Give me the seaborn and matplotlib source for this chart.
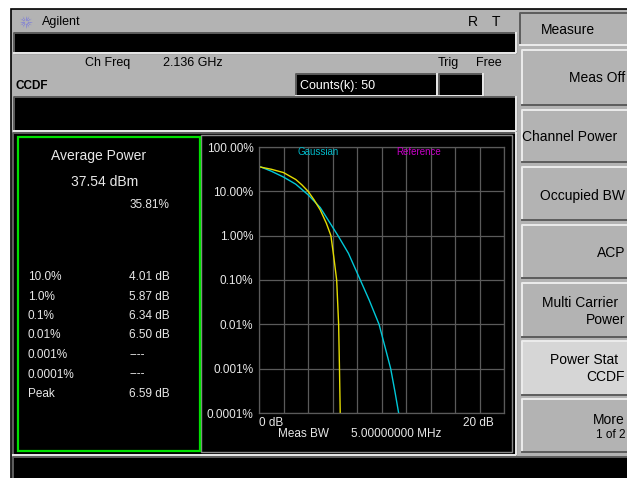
import numpy as np
import pandas as pd
import matplotlib.pyplot as plt
from matplotlib.patches import Rectangle
from matplotlib.ticker import NullLocator
import seaborn as sns

plt.rcParams['font.family'] = ['Liberation Sans', 'DejaVu Sans']

# CCDF traces (x in dB above average, y in %)
meas_db = [0.0, 1.0, 2.0, 3.0, 3.5, 4.01, 4.5, 5.0, 5.5, 5.87, 6.1, 6.34, 6.5, 6.57, 6.63, 6.65]
meas_pct = [35.81, 31.5, 26.5, 18.5, 14.0, 10.0, 6.4, 3.8, 1.9, 1.0, 0.34, 0.1, 0.01, 0.001, 0.0001, 0.00005]
gauss_db = [0.0, 1.0, 2.0, 3.0, 4.0, 5.0, 5.5, 6.45, 7.3, 8.27, 9.0, 9.8, 10.3, 10.75, 11.1, 11.4, 11.5]
gauss_pct = [36.8, 28.5, 21.0, 14.5, 8.4, 4.3, 2.6, 1.0, 0.4, 0.1, 0.035, 0.01, 0.003, 0.001, 0.0003, 0.0001, 0.00007]

ytick_vals = [100, 10, 1, 0.1, 0.01, 0.001, 0.0001]
ytick_labels = ["100.00%", "10.00%", "1.00%", "0.10%", "0.01%", "0.001%", "0.0001%"]

stat_labels = ["10.0%", "1.0%", "0.1%", "0.01%", "0.001%", "0.0001%", "Peak"]
stat_values = ["4.01 dB", "5.87 dB", "6.34 dB", "6.50 dB", "----", "----", "6.59 dB"]

GRAY = "#b3b3b3"
LIGHT = "#ececec"
DARK = "#5c5c5c"
TXT = "#e8e8e8"

fig = plt.figure(figsize=(6.27, 4.78), dpi=100)
fig.patch.set_facecolor("white")

# background axes in pixel units for the instrument chrome
bg = fig.add_axes([0, 0, 1, 1])
bg.set_xlim(0, 627)
bg.set_ylim(478, 0)
bg.axis("off")


def box(x, y, w, h, fc, ec=None, lw=0.8, z=1):
    bg.add_patch(Rectangle((x, y), w, h, facecolor=fc, edgecolor=ec if ec else fc, lw=lw, zorder=z))


def bevel(x, y, w, h, fc, raised=True):
    box(x, y, w, h, fc)
    hi, lo = (LIGHT, DARK) if raised else (DARK, LIGHT)
    bg.plot([x, x, x + w], [y + h, y, y], color=hi, lw=1.4, zorder=2)
    bg.plot([x, x + w, x + w], [y + h, y + h, y], color=lo, lw=1.4, zorder=2)


# screen
box(11, 9, 620, 472, GRAY, ec="black", lw=1.2)

# title line
for a in np.arange(0, 360, 30):
    r = np.radians(a)
    bg.plot([26 + 2 * np.cos(r), 26 + 6 * np.cos(r)], [22 + 2 * np.sin(r), 22 + 6 * np.sin(r)],
            color="#6a6ae6", lw=0.7, ls=(0, (1, 1)))
bg.text(42, 22, "Agilent", fontsize=9, va="center", color="black")
bg.text(468, 22, "R", fontsize=10, va="center")
bg.text(492, 22, "T", fontsize=10, va="center")

bevel(14, 33, 502, 20, "black", raised=False)
bg.text(85, 63, "Ch Freq", fontsize=9, va="center")
bg.text(163, 63, "2.136 GHz", fontsize=9, va="center")
bg.text(438, 63, "Trig", fontsize=9, va="center")
bg.text(476, 63, "Free", fontsize=9, va="center")
bg.text(15, 86, "CCDF", fontsize=8.5, fontweight="bold", va="center")

bevel(296, 74, 141, 22, "black", raised=False)
bg.text(300, 86, "Counts(k): 50", fontsize=9, va="center", color="white")
bevel(439, 74, 44, 22, "black", raised=False)

bevel(14, 97, 502, 34, "black", raised=False)

# main display frame
bevel(13, 133, 503, 322, "black", raised=False)
box(18, 137, 182, 314, "black", ec="#00e000", lw=1.6, z=3)
box(201, 135, 311, 317, "black", ec="#8a8a8a", lw=1.0, z=2)

# stats panel
bg.text(99, 156, "Average Power", fontsize=10, ha="center", va="center", color=TXT)
bg.text(105, 182, "37.54 dBm", fontsize=10, ha="center", va="center", color=TXT)
bg.text(130, 205, "35.81%", fontsize=8.5, va="center", color=TXT)
for i, (lab, val) in enumerate(zip(stat_labels, stat_values)):
    yy = 277 + i * 19.5
    bg.text(28, yy, lab, fontsize=8.5, va="center", color=TXT)
    bg.text(129, yy, val, fontsize=8.5, va="center", color=TXT)

# bottom status bar
bevel(13, 457, 620, 24, "black", raised=False)

# softkey column
bevel(520, 13, 115, 32, GRAY, raised=False)
bg.text(541, 30, "Measure", fontsize=10, va="center")
keys = [(50, 105), (110, 162), (167, 220), (225, 278), (283, 337), (341, 395), (399, 452)]
for i, (y0, y1) in enumerate(keys):
    bevel(522, y0, 115, y1 - y0, "#d6d6d6" if i == 5 else GRAY, raised=True)
bg.text(625, 78, "Meas Off", fontsize=10, ha="right", va="center")
bg.text(522, 137, "Channel Power", fontsize=10, va="center")
bg.text(625, 196, "Occupied BW", fontsize=10, ha="right", va="center")
bg.text(625, 253, "ACP", fontsize=10, ha="right", va="center")
bg.text(542, 303, "Multi Carrier", fontsize=10, va="center")
bg.text(625, 320, "Power", fontsize=10, ha="right", va="center")
bg.text(550, 360, "Power Stat", fontsize=10, va="center")
bg.text(625, 377, "CCDF", fontsize=10, ha="right", va="center")
bg.text(625, 420, "More", fontsize=10, ha="right", va="center")
bg.text(625, 435, "1 of 2", fontsize=8.5, ha="right", va="center")

# CCDF plot
ax = fig.add_axes([259 / 627, (478 - 413) / 478, 245 / 627, 266 / 478])
ax.set_facecolor("black")
df = pd.concat([
    pd.DataFrame({"dB": gauss_db, "pct": gauss_pct, "trace": "Gaussian"}),
    pd.DataFrame({"dB": meas_db, "pct": meas_pct, "trace": "Measured"}),
])
sns.lineplot(data=df, x="dB", y="pct", hue="trace", hue_order=["Gaussian", "Measured"],
             palette={"Gaussian": "#00c8d8", "Measured": "#e4dc00"},
             estimator=None, legend=False, lw=1.0, ax=ax)
ax.set_yscale("log")
ax.set_xlim(0, 20)
ax.set_ylim(1e-4, 100)
ax.set_xticks(np.arange(0, 21, 2))
ax.set_xticklabels([])
ax.set_yticks(ytick_vals)
ax.set_yticklabels(ytick_labels)
ax.yaxis.set_minor_locator(NullLocator())
ax.tick_params(length=0, colors=TXT, labelsize=8.5, pad=4)
ax.set_xlabel("")
ax.set_ylabel("")
ax.grid(True, color="#5a5a5a", lw=0.9)
for sp in ax.spines.values():
    sp.set_color("#5a5a5a")
    sp.set_linewidth(0.9)

ax.text(298, 152, "Gaussian", fontsize=7, va="center", color="#00b8c8", transform=bg.transData)
ax.text(396, 152, "Reference", fontsize=7, va="center", color="#c800c8", transform=bg.transData)
bg.text(259, 423, "0 dB", fontsize=8.5, va="center", color=TXT, zorder=5)
bg.text(463, 423, "20 dB", fontsize=8.5, va="center", color=TXT, zorder=5)
bg.text(278, 434, "Meas BW", fontsize=8.5, va="center", color=TXT, zorder=5)
bg.text(351, 434, "5.00000000 MHz", fontsize=8.5, va="center", color=TXT, zorder=5)

plt.savefig("out.png", dpi=100)
